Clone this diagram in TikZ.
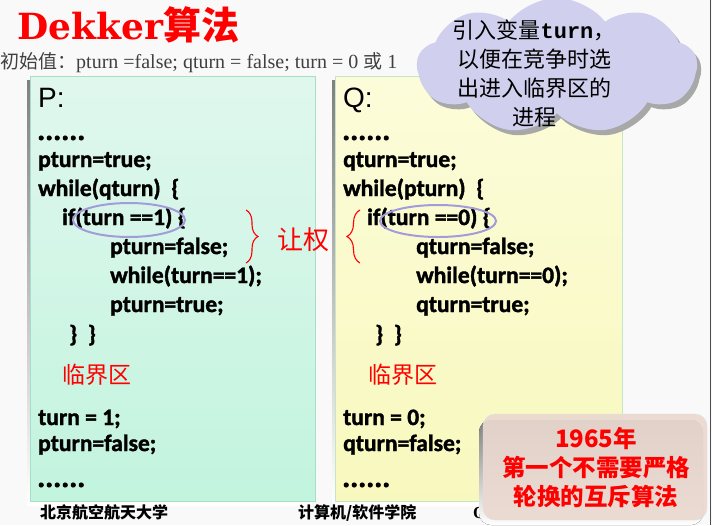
\documentclass[tikz,border=0pt]{standalone}
\usepackage{fontspec}
\setmainfont{Liberation Serif}
\newfontfamily\codefont[BoldFeatures={FakeBold=1.6}]{Carlito}
\newfontfamily\cjk{Noto Sans CJK SC}
\newfontfamily\headfont{DejaVu Serif}
\newfontfamily\labelfont{Liberation Sans}
\newfontfamily\monofont{Liberation Mono}
\usetikzlibrary{positioning,shapes.symbols,decorations.pathreplacing}

\definecolor{pagebg}{HTML}{F9F9F9}
\definecolor{ptop}{HTML}{E0F7EE}
\definecolor{pbot}{HTML}{C2F4DE}
\definecolor{pline}{HTML}{A6DEC6}
\definecolor{qtop}{HTML}{FCFCDA}
\definecolor{qbot}{HTML}{F8F8BE}
\definecolor{qline}{HTML}{C4E6C4}
\definecolor{cloudfill}{HTML}{D0D0EE}
\definecolor{ovalline}{HTML}{A29CDA}
\definecolor{notefill}{HTML}{EAD9D0}
\definecolor{notered}{HTML}{FF0000}
\definecolor{shade}{HTML}{A8A8A8}

\tikzset{
  codeline/.style={anchor=base west, inner sep=0pt, font=\codefont\bfseries\fontsize{23.5}{23.5}\selectfont},
  dotline/.style={anchor=base west, inner sep=0pt, font=\codefont\bfseries\fontsize{30}{30}\selectfont},
  proclabel/.style={anchor=base west, inner sep=0pt, font=\labelfont\fontsize{28}{28}\selectfont},
  redcjk/.style={anchor=base west, inner sep=0pt, text=notered, font=\cjk\fontsize{23}{23}\selectfont},
  footer/.style={anchor=base west, inner sep=0pt, font=\cjk\bfseries\fontsize{16}{16}\selectfont},
  oval/.style={draw=ovalline, line width=2pt},
  giveup/.style={draw=notered, line width=1.1pt, decorate},
  puffy/.style={cloud, cloud puffs=9, cloud puff arc=105, aspect=2,
                minimum width=280pt, minimum height=136pt},
}

\begin{document}
\begin{tikzpicture}[x=1pt, y=-1pt]
  \useasboundingbox (0,0) rectangle (712,525);
  \fill[pagebg] (0,0) rectangle (712,525);
  \draw[gray!60!black, line width=1.5pt] (710.5,0) -- (710.5,525);

  % title and initial values
  \node[anchor=base west, inner sep=0pt, text=notered] (title) at (17,39)
    {{\headfont\bfseries\fontsize{36}{36}\selectfont Dekker}{\cjk\bfseries\fontsize{38}{38}\selectfont 算法}};
  \node[anchor=base west, inner sep=0pt, text=black!75, font=\fontsize{20}{20}\selectfont] (init) at (0,68)
    {{\cjk\fontsize{19}{19}\selectfont 初始值：}pturn =false; qturn = false; turn = 0 {\cjk\fontsize{19}{19}\selectfont 或} 1};

  % process boxes
  \fill[shade] (27,80) rectangle (312,505);
  \shade[top color=ptop, bottom color=pbot] (30,76) rectangle (315,501);
  \draw[pline] (30,76) rectangle (315,501);
  \fill[shade] (332,80) rectangle (619,505);
  \shade[top color=qtop, bottom color=qbot] (335,76) rectangle (622,501);
  \draw[qline] (335,76) rectangle (622,501);

  % process P
  \node[proclabel] (plabel) at (38,107) {P:};
  \node[dotline] (p1) at (37,140) {......};
  \node[codeline] (p2) at (38,167) {pturn=true;};
  \node[codeline] (p3) at (38,196) {while(qturn)~~\{};
  \node[codeline] (p4) at (62,225) {if(turn ==1) \{};
  \node[codeline] (p5) at (110,254) {pturn=false;};
  \node[codeline] (p6) at (110,283) {while(turn==1);};
  \node[codeline] (p7) at (110,312) {pturn=true;};
  \node[codeline] (p8) at (69,342) {\}~~\}};
  \node[redcjk] (pcrit) at (62,383) {临界区};
  \node[codeline] (p9) at (38,425) {turn = 1;};
  \node[codeline] (p10) at (38,451) {pturn=false;};
  \node[dotline] (p11) at (37,487) {......};

  % process Q
  \node[proclabel] (qlabel) at (343,107) {Q:};
  \node[dotline] (q1) at (342,140) {......};
  \node[codeline] (q2) at (343,167) {qturn=true;};
  \node[codeline] (q3) at (343,196) {while(pturn)~~\{};
  \node[codeline] (q4) at (367,225) {if(turn ==0) \{};
  \node[codeline] (q5) at (416,254) {qturn=false;};
  \node[codeline] (q6) at (416,283) {while(turn==0);};
  \node[codeline] (q7) at (416,312) {qturn=true;};
  \node[codeline] (q8) at (375,342) {\}~~\}};
  \node[redcjk] (qcrit) at (368,383) {临界区};
  \node[codeline] (q9) at (343,425) {turn = 0;};
  \node[codeline] (q10) at (343,451) {qturn=false;};
  \node[dotline] (q11) at (342,487) {......};

  % turn tests and yielding
  \draw[oval] (129,220) ellipse [x radius=56, y radius=17];
  \draw[oval] (438,221) ellipse [x radius=58, y radius=16];
  \coordinate (pbtop) at (246,210);
  \coordinate (pbbot) at (246,263);
  \coordinate (qbtop) at (360,210);
  \coordinate (qbbot) at (360,263);
  \draw[giveup, decoration={brace, amplitude=12pt}] (pbtop) -- (pbbot);
  \draw[giveup, decoration={brace, amplitude=13pt}] (qbbot) -- (qbtop);
  \node[text=notered, font=\cjk\fontsize{26}{26}\selectfont, inner sep=0pt] (yield) at (303,240) {让权};

  % cloud note
  \node[puffy, fill=shade] (cloudshadow) at (561,71) {};
  \node[puffy, fill=cloudfill] (cloud) at (557,66) {};
  \node[align=center, inner sep=0pt, font=\cjk\fontsize{22}{29}\selectfont] (cloudtext) at (534,74)
    {引入变量{\monofont\bfseries turn}，\\以便在竞争时选\\出进入临界区的\\进程};

  % footer
  \node[footer] (school) at (40,518) {北京航空航天大学};
  \node[footer] (dept) at (298,518) {计算机/软件学院};
  \node[anchor=base west, inner sep=0pt, font=\bfseries\fontsize{17}{17}\selectfont] (course) at (473,518) {OS};
  \node[anchor=base west, inner sep=0pt, text=black!45, font=\fontsize{10}{10}\selectfont] (page) at (657,521) {16};

  % history note
  \fill[shade, rounded corners=12pt] (479,420) rectangle (703,525);
  \node[fill=notefill, fill opacity=0.92, text opacity=1, draw=black!12, rounded corners=12pt,
        minimum width=224pt, minimum height=106pt, inner sep=0pt] (note) at (595,467) {};
  \node[align=center, inner sep=0pt, text=notered, font=\cjk\bfseries\fontsize{23.5}{29}\selectfont] (notetext) at (596,468)
    {{\bfseries\fontsize{24}{24}\selectfont 1965}年\\第一个不需要严格\\轮换的互斥算法};
\end{tikzpicture}
\end{document}
